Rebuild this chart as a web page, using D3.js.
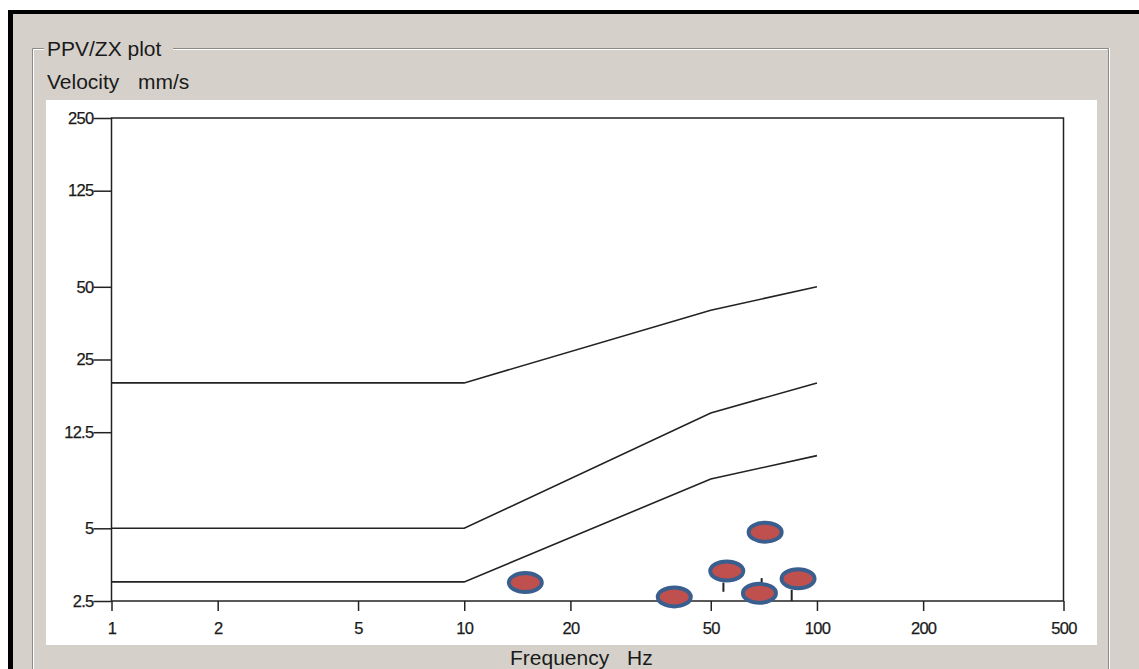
<!DOCTYPE html>
<html>
<head>
<meta charset="utf-8">
<script src="https://cdn.jsdelivr.net/npm/d3@7"></script>
<style>
html,body{margin:0;padding:0;background:#fff;}
svg{display:block;}
text{font-family:"Liberation Sans",Arial,sans-serif;fill:#1a1a1a;}
</style>
</head>
<body>
<svg id="chart" width="1139" height="669"></svg>
<script>
// ---- data ----
const freqTicks = [1, 2, 5, 10, 20, 50, 100, 200, 500];
const velTicks = [2.5, 5, 12.5, 25, 50, 125, 250];
const limitFreq = [1, 10, 50, 100];
const limitLine1 = [20, 20, 40, 50];
const limitLine2 = [5, 5, 15, 20];
const limitLine3 = [3, 3, 8, 10];
const eventFreq = [14.9, 39.4, 55.5, 71.3, 68.7, 88.4];
const eventPPV = [2.98, 2.60, 3.33, 4.82, 2.69, 3.09];
const stemFreq = [54.3, 69.7, 84.8];
const stemLow = [2.73, 2.99, 2.5];
const stemHigh = [2.98, 3.11, 2.78];

const svg = d3.select("#chart");
const W = 1139, H = 669;

// window chrome
svg.append("rect").attr("x", 0).attr("y", 0).attr("width", W).attr("height", H).attr("fill", "#ffffff");
svg.append("rect").attr("x", 8).attr("y", 10).attr("width", W).attr("height", H).attr("fill", "#000");
svg.append("rect").attr("x", 13).attr("y", 14).attr("width", W).attr("height", H).attr("fill", "#d5d1ca");

// group box (etched)
const gb = {x: 32, y: 48, r: 1108};
function gline(x1, y1, x2, y2, c) {
  svg.append("line").attr("x1", x1).attr("y1", y1).attr("x2", x2).attr("y2", y2)
    .attr("stroke", c).attr("stroke-width", 1);
}
gline(gb.x + 0.5, gb.y + 0.5, 44, gb.y + 0.5, "#8c8a86");
gline(gb.x + 1.5, gb.y + 1.5, 44, gb.y + 1.5, "#ffffff");
gline(173, gb.y + 0.5, gb.r + 0.5, gb.y + 0.5, "#8c8a86");
gline(173, gb.y + 1.5, gb.r - 0.5, gb.y + 1.5, "#ffffff");
gline(gb.x + 0.5, gb.y + 0.5, gb.x + 0.5, H, "#8c8a86");
gline(gb.x + 1.5, gb.y + 1.5, gb.x + 1.5, H, "#ffffff");
gline(gb.r + 0.5, gb.y + 0.5, gb.r + 0.5, H, "#8c8a86");
gline(gb.r + 1.5, gb.y, gb.r + 1.5, H, "#ffffff");

svg.append("text").attr("x", 47).attr("y", 56).attr("font-size", 21).text("PPV/ZX plot");
svg.append("text").attr("x", 47).attr("y", 89).attr("font-size", 21).text("Velocity");
svg.append("text").attr("x", 138).attr("y", 89).attr("font-size", 21).text("mm/s");

// white plot panel
svg.append("rect").attr("x", 46).attr("y", 100).attr("width", 1051).attr("height", 545).attr("fill", "#fff");

svg.append("text").attr("x", 510).attr("y", 665).attr("font-size", 21).text("Frequency");
svg.append("text").attr("x", 627).attr("y", 665).attr("font-size", 21).text("Hz");

// scales
const pLeft = 111.5, pRight = 1063.5, pTop = 118, pBottom = 601;
const x = d3.scaleLog().domain([1, 500]).range([pLeft, pRight]);
const y = d3.scaleLog().domain([2.5, 250]).range([pBottom, pTop]);

const fmt = d => String(d);

function styleTicks(g) {
  g.select(".domain").remove();
  g.selectAll(".tick line").attr("stroke", "#222").attr("stroke-width", 1.5);
  g.selectAll(".tick text").attr("font-size", 16.5).attr("letter-spacing", -0.7)
    .attr("font-family", "Liberation Sans, Arial, sans-serif").attr("fill", "#1a1a1a")
    .attr("stroke", "#1a1a1a").attr("stroke-width", 0.25);
}

// axes
const yAxis = svg.append("g").attr("transform", `translate(${pLeft},0)`)
  .call(d3.axisLeft(y).tickValues(velTicks).tickFormat(fmt).tickSize(18).tickSizeOuter(0).tickPadding(0));
styleTicks(yAxis);

const xAxis = svg.append("g").attr("transform", `translate(0,${pBottom})`)
  .call(d3.axisBottom(x).tickValues(freqTicks).tickFormat(fmt).tickSize(10).tickSizeOuter(0).tickPadding(11));
styleTicks(xAxis);

// frame
svg.append("rect").attr("x", pLeft).attr("y", pTop).attr("width", pRight - pLeft).attr("height", pBottom - pTop)
  .attr("fill", "none").attr("stroke", "#222").attr("stroke-width", 1.5);

// limit lines
const line = d3.line().x(d => x(d[0])).y(d => y(d[1]));
[limitLine1, limitLine2, limitLine3].forEach(vals => {
  svg.append("path").datum(limitFreq.map((f, i) => [f, vals[i]]))
    .attr("d", line).attr("fill", "none").attr("stroke", "#222").attr("stroke-width", 1.6);
});

// stems
svg.selectAll(".stem").data(stemFreq).enter().append("line").attr("class", "stem")
  .attr("x1", d => x(d)).attr("x2", d => x(d))
  .attr("y1", (d, i) => y(stemLow[i])).attr("y2", (d, i) => y(stemHigh[i]))
  .attr("stroke", "#222").attr("stroke-width", 2);

// event markers
svg.selectAll(".ev").data(eventFreq).enter().append("ellipse").attr("class", "ev")
  .attr("cx", d => x(d)).attr("cy", (d, i) => y(eventPPV[i]))
  .attr("rx", 16.5).attr("ry", 9.5)
  .attr("fill", "#c0504d").attr("stroke", "#3a5f8f").attr("stroke-width", 4);
</script>
</body>
</html>
